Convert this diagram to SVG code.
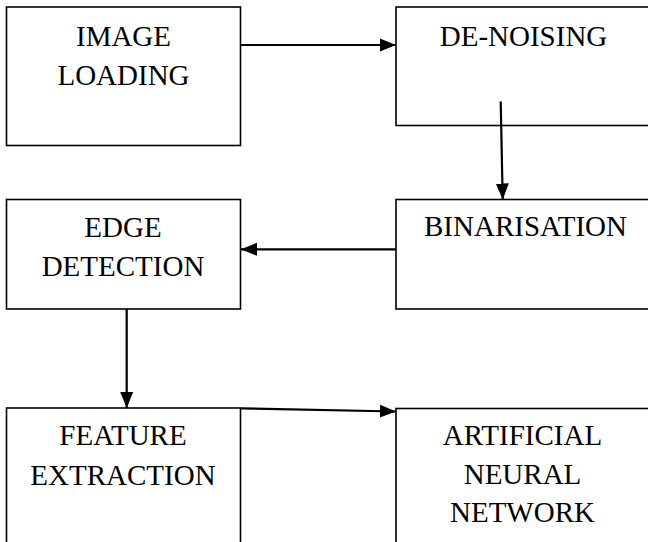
<svg xmlns="http://www.w3.org/2000/svg" width="648" height="542" viewBox="0 0 648 542">
<style>
.box{fill:#fff;stroke:#000;stroke-width:1.6}
.conn{stroke:#000;stroke-width:2.2;fill:none}
</style>
<defs>
<marker id="ah" markerWidth="16" markerHeight="14" refX="16" refY="7" orient="auto" markerUnits="userSpaceOnUse">
<path d="M0,0.5 L16,7 L0,13.5 Z" fill="#000"/>
</marker>
</defs>
<rect width="648" height="542" fill="#fff"/>
<g font-family="'Times New Roman', 'Liberation Serif', serif" font-size="29" fill="#000" text-anchor="middle">
<g id="n1">
<rect class="box" x="6.5" y="7" width="234" height="138.5"/>
<text x="123.5" y="45.5">IMAGE</text>
<text x="123.5" y="85">LOADING</text>
</g>
<g id="n2">
<rect class="box" x="396" y="7" width="260" height="118.5"/>
<text x="523.5" y="45.5">DE-NOISING</text>
</g>
<g id="n3">
<rect class="box" x="6.5" y="199.5" width="234" height="109.5"/>
<text x="123" y="236.5">EDGE</text>
<text x="123" y="276">DETECTION</text>
</g>
<g id="n4">
<rect class="box" x="396" y="199.5" width="260" height="109.5"/>
<text x="525.5" y="235.5">BINARISATION</text>
</g>
<g id="n5">
<rect class="box" x="6.5" y="408" width="234" height="150"/>
<text x="123" y="445">FEATURE</text>
<text x="123" y="484.5">EXTRACTION</text>
</g>
<g id="n6">
<rect class="box" x="396" y="408.5" width="260" height="150"/>
<text x="522.5" y="445">ARTIFICIAL</text>
<text x="522.5" y="483.5">NEURAL</text>
<text x="522.5" y="521.5">NETWORK</text>
</g>
</g>
<g id="connectors">
<line class="conn" x1="241" y1="45" x2="396" y2="45" marker-end="url(#ah)"/>
<line class="conn" x1="500.7" y1="101.5" x2="502.7" y2="199.5" marker-end="url(#ah)"/>
<line class="conn" x1="396" y1="249.3" x2="241" y2="249.3" marker-end="url(#ah)"/>
<line class="conn" x1="126.7" y1="309" x2="126.7" y2="408" marker-end="url(#ah)"/>
<line class="conn" x1="241" y1="408.3" x2="396" y2="411.5" marker-end="url(#ah)"/>
</g>
</svg>
